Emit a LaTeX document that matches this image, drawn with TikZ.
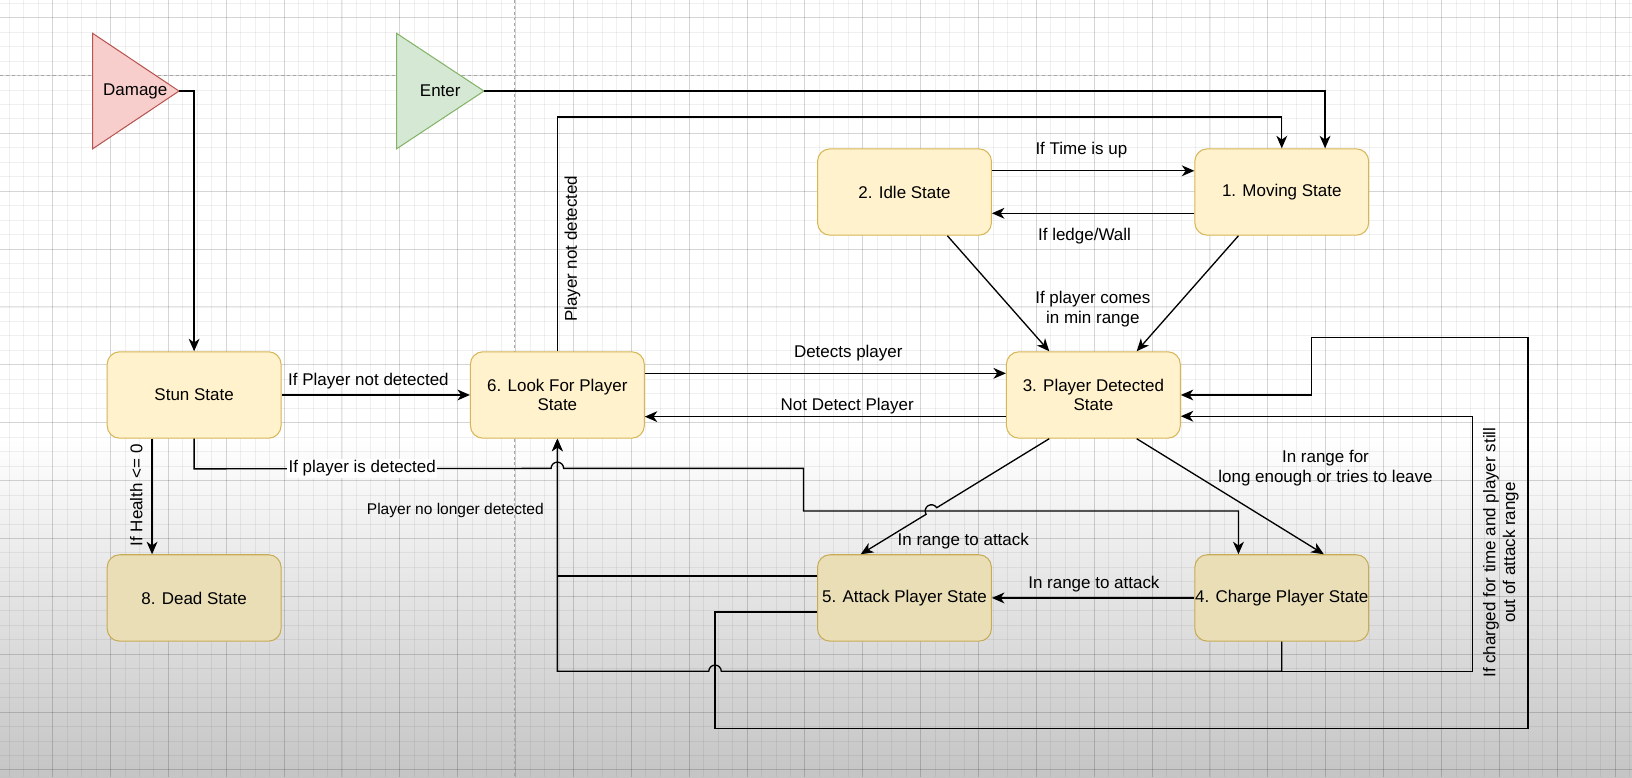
\documentclass[tikz,border=0pt]{standalone}
\usepackage{fontspec}
\setmainfont{Liberation Sans}
\usetikzlibrary{arrows.meta}

\definecolor{statefill}{HTML}{FFF2CC}
\definecolor{stateline}{HTML}{D6B656}
\definecolor{statedark}{HTML}{E9DEB6}
\definecolor{statedarkline}{HTML}{C7AB57}
\definecolor{damagefill}{HTML}{F8CECC}
\definecolor{damageline}{HTML}{B85450}
\definecolor{enterfill}{HTML}{D5E8D4}
\definecolor{enterline}{HTML}{82B366}

\begin{document}
\begin{tikzpicture}[x=0.025cm,y=-0.025cm,
  state/.style={draw=stateline,fill=statefill,line width=0.7pt,rounded corners=0.3cm,
    minimum width=4.175cm,minimum height=2.075cm,inner sep=0pt,align=center,
    font=\fontsize{11.6}{13.5}\selectfont},
  lowstate/.style={state,draw=statedarkline,fill=statedark},
  lbl/.style={inner sep=1pt,align=center,font=\fontsize{11.6}{13.5}\selectfont},
  arr/.style={line width=0.9pt,-{Stealth[length=0.3cm,width=0.26cm,inset=0.09cm]}},
  gridminor/.style={draw=black,draw opacity=0.06,line width=0.4pt},
  gridmajor/.style={draw=black,draw opacity=0.11,line width=0.5pt},
  pageline/.style={draw=black!35,line width=0.5pt,dash pattern=on 2pt off 2pt}]

  % canvas
  \useasboundingbox (0,0) rectangle (1568,747);
  \fill[white] (0,0) rectangle (1568,421);
  \shade[top color=white,bottom color=black!23] (0,420) rectangle (1568,747);
  \foreach \gx in {8.7,22.6,...,1568} \draw[gridminor] (\gx,0) -- (\gx,747);
  \foreach \gy in {2.9,16.8,...,747} \draw[gridminor] (0,\gy) -- (1568,\gy);
  \foreach \gx in {50.4,106,...,1568} \draw[gridmajor] (\gx,0) -- (\gx,747);
  \foreach \gy in {16.8,72.4,...,747} \draw[gridmajor] (0,\gy) -- (1568,\gy);
  \draw[pageline] (0,72.4) -- (1568,72.4);
  \draw[pageline] (494,0) -- (494,747);

  % triggers
  \draw[draw=damageline,fill=damagefill,line width=0.7pt] (89,32) -- (172,87.5) -- (89,143) -- cycle;
  \draw[draw=enterline,fill=enterfill,line width=0.7pt] (381,32) -- (465,87.5) -- (381,143) -- cycle;
  \node[lbl] (damage) at (130,87.5) {Damage};
  \node[lbl] (enter) at (423,87.5) {Enter};
  \coordinate (damagetip) at (172,87.5);
  \coordinate (entertip) at (465,87.5);

  % states
  \node[state] (stun) at (186.5,379.5) {Stun State};
  \node[lowstate] (dead) at (186.5,574.5) {8. Dead State};
  \node[state] (look) at (535.5,379.5) {6. Look For Player\\State};
  \node[state] (idle) at (869,184.5) {2. Idle State};
  \node[state] (moving) at (1231.5,184.5) {1. Moving State};
  \node[state] (detected) at (1050.5,379.5) {3. Player Detected\\State};
  \node[lowstate] (attack) at (869,574.5) {5. Attack Player State};
  \node[lowstate] (charge) at (1231.5,574.5) {4. Charge Player State};

  % transitions
  \draw[arr] (damagetip) -| (stun.north);
  \draw[arr] (entertip) -| ([xshift=1.04cm]moving.north);
  \draw[arr] (look.north) -- ++(0,-225) -| (moving.north);
  \draw[arr] ([yshift=0.51cm]idle.east) -- ([yshift=0.51cm]moving.west);
  \draw[arr] ([yshift=-0.51cm]moving.west) -- ([yshift=-0.51cm]idle.east);
  \draw[arr] ([xshift=1.03cm]idle.south) -- ([xshift=-1.06cm]detected.north);
  \draw[arr] ([xshift=-1.04cm]moving.south) -- ([xshift=1.04cm]detected.north);
  \draw[arr] (stun.east) -- (look.west);
  \draw[arr] ([yshift=0.52cm]look.east) -- ([yshift=0.52cm]detected.west);
  \draw[arr] ([yshift=-0.52cm]detected.west) -- ([yshift=-0.52cm]look.east);
  \draw[arr] ([xshift=-1.01cm]stun.south) -- ([xshift=-1.01cm]dead.north);
  \draw[arr] (stun.south) -- ++(0,29) -- (529.5,450) arc (180:360:6) -- (772,450) -- (772,491)
    -| ([xshift=-1.04cm]charge.north);
  \draw[arr] ([xshift=-1.06cm]detected.south) -- (900,487.8) arc (-31.8:-211.8:6)
    -- ([xshift=-1.05cm]attack.north);
  \draw[arr] ([xshift=1.04cm]detected.south) -- ([xshift=1.01cm]charge.north);
  \draw[arr] (charge.west) -- (attack.east);
  \draw[arr] ([yshift=0.525cm]attack.west) -| (look.south);
  \draw[arr] (charge.south) |- (693,645) arc (0:-180:6) -| (look.south);
  \draw[arr] (charge.south) |- (1415,645) |- ([yshift=-0.51cm]detected.east);
  \draw[arr] ([yshift=-0.34cm]attack.west) -| (687,700) -| (1468,324) -| (1260,379.5) -- (detected.east);

  % labels
  \node[lbl] (ltime) at (1039,144) {If Time is up};
  \node[lbl] (lwall) at (1042,227) {If ledge/Wall};
  \node[lbl] (lcomes) at (1050,297) {If player comes\\in min range};
  \node[lbl] (ldetects) at (815,339) {Detects player};
  \node[lbl] (lnotdetect) at (814,390) {Not Detect Player};
  \node[lbl] (lstunlook) at (354,366) {If Player not detected};
  \node[lbl,fill=white] (lstuncharge) at (348,450) {If player is detected};
  \node[lbl,rotate=90] (lhealth) at (131,476) {If Health <= 0};
  \node[lbl,rotate=90] (llost) at (550,239) {Player not detected};
  \node[lbl,font=\fontsize{10.6}{12}\selectfont] (lnolonger) at (437.5,490) {Player no longer detected};
  \node[lbl] (lattack) at (925.5,520) {In range to attack};
  \node[lbl] (lattack2) at (1051,561) {In range to attack};
  \node[lbl] (lcharge) at (1273.5,450) {In range for\\long enough or tries to leave};
  \node[lbl,rotate=90] (lcharged) at (1442,531) {If charged for time and player still\\out of attack range};

\end{tikzpicture}
\end{document}
